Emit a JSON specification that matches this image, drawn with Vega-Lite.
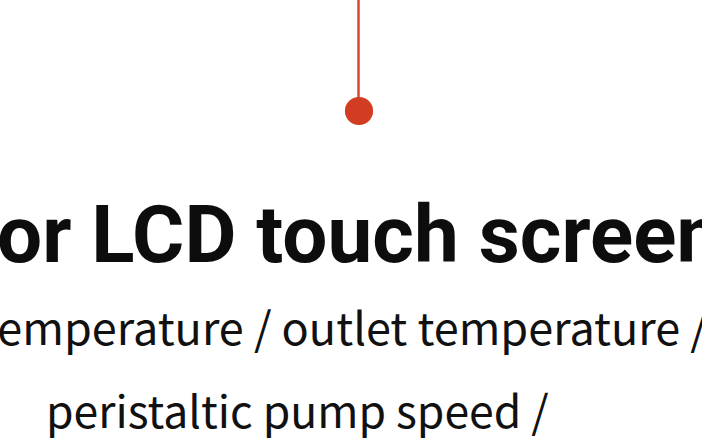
{
  "$schema": "https://vega.github.io/schema/vega-lite/v6.json",
  "autosize": {"type": "none"},
  "width": 702,
  "height": 439,
  "padding": 0,
  "background": "white",
  "config": {"view": {"stroke": null}},
  "datasets": {
    "pin": [{"x": 358.5, "y0": 0, "y1": 111}],
    "dot": [{"x": 359, "y": 111}],
    "title": [{"x": -3, "y": 262, "label": "or LCD touch screen"}],
    "lines": [
      {"x": -19, "y": 345, "size": 45, "label": "temperature / outlet temperature /"},
      {"x": 46, "y": 428, "size": 44.5, "label": "peristaltic pump speed /"}
    ]
  },
  "layer": [
    {
      "data": {"name": "pin"},
      "mark": {"type": "rule", "color": "#d8472e", "strokeWidth": 2.5},
      "encoding": {
        "x": {"field": "x", "type": "quantitative", "scale": {"domain": [0, 702], "nice": false, "zero": false}, "axis": null},
        "y": {"field": "y0", "type": "quantitative", "scale": {"domain": [0, 439], "nice": false, "reverse": true}, "axis": null},
        "y2": {"field": "y1"}
      }
    },
    {
      "data": {"name": "dot"},
      "mark": {"type": "circle", "color": "#d23c20", "opacity": 1, "size": 795},
      "encoding": {
        "x": {"field": "x", "type": "quantitative"},
        "y": {"field": "y", "type": "quantitative"}
      }
    },
    {
      "data": {"name": "title"},
      "mark": {"type": "text", "align": "left", "baseline": "alphabetic", "font": "Roboto", "fontWeight": "bold", "fontSize": 80, "color": "#0d0d0d"},
      "encoding": {
        "x": {"field": "x", "type": "quantitative"},
        "y": {"field": "y", "type": "quantitative"},
        "text": {"field": "label"}
      }
    },
    {
      "data": {"name": "lines"},
      "mark": {"type": "text", "align": "left", "baseline": "alphabetic", "font": "Noto Sans CJK SC", "color": "#111111"},
      "encoding": {
        "x": {"field": "x", "type": "quantitative"},
        "y": {"field": "y", "type": "quantitative"},
        "size": {"field": "size", "type": "quantitative", "scale": null},
        "text": {"field": "label"}
      }
    }
  ]
}
